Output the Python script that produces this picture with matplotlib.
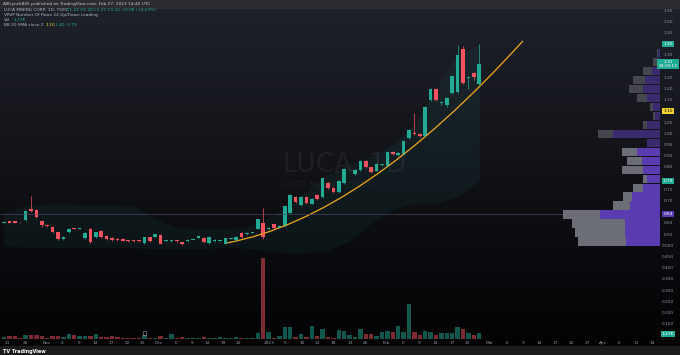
import numpy as np
import matplotlib.pyplot as plt
from matplotlib.path import Path
from matplotlib.patches import PathPatch

W, H = 680, 355

# daily candles (bar index 0..88)
opens = [0.603, 0.608, 0.608, 0.605, 0.613, 0.663, 0.659, 0.610, 0.590, 0.585,
         0.560, 0.530, 0.560, 0.575, 0.574, 0.534, 0.575, 0.538, 0.565, 0.545,
         0.535, 0.530, 0.530, 0.525, 0.525, 0.525, 0.510, 0.537, 0.540, 0.547,
         0.520, 0.520, 0.521, 0.515, 0.520, 0.525, 0.535, 0.535, 0.510, 0.520,
         0.520, 0.508, 0.530, 0.525, 0.557, 0.550, 0.557, 0.575, 0.603, 0.572,
         0.595, 0.580, 0.587, 0.645, 0.716, 0.681, 0.716, 0.688, 0.725, 0.716,
         0.780, 0.757, 0.740, 0.780, 0.840, 0.820, 0.838, 0.878, 0.850, 0.835,
         0.860, 0.855, 0.918, 0.905, 0.910, 0.980, 1.000, 0.998, 0.990, 1.150,
         1.198, 1.135, 1.130, 1.180, 1.185, 1.380, 1.250, 1.270, 1.220]
closes = [0.607, 0.603, 0.603, 0.604, 0.654, 0.654, 0.627, 0.590, 0.588, 0.560,
          0.530, 0.540, 0.575, 0.574, 0.575, 0.556, 0.515, 0.560, 0.538, 0.530,
          0.525, 0.525, 0.522, 0.520, 0.520, 0.520, 0.537, 0.520, 0.550, 0.507,
          0.520, 0.521, 0.520, 0.505, 0.527, 0.525, 0.542, 0.515, 0.537, 0.527,
          0.520, 0.532, 0.530, 0.540, 0.537, 0.557, 0.557, 0.617, 0.537, 0.578,
          0.578, 0.587, 0.677, 0.727, 0.696, 0.716, 0.690, 0.707, 0.707, 0.800,
          0.757, 0.740, 0.790, 0.840, 0.840, 0.838, 0.878, 0.850, 0.830, 0.865,
          0.860, 0.918, 0.910, 0.915, 0.967, 1.017, 0.999, 0.990, 1.120, 1.198,
          1.150, 1.140, 1.160, 1.257, 1.350, 1.225, 1.255, 1.252, 1.310]
highs = [0.609, 0.610, 0.610, 0.606, 0.660, 0.720, 0.662, 0.615, 0.596, 0.588,
         0.562, 0.543, 0.578, 0.577, 0.577, 0.560, 0.580, 0.563, 0.568, 0.548,
         0.537, 0.532, 0.532, 0.527, 0.527, 0.527, 0.540, 0.540, 0.553, 0.550,
         0.522, 0.523, 0.523, 0.517, 0.530, 0.527, 0.545, 0.538, 0.540, 0.530,
         0.522, 0.535, 0.532, 0.543, 0.560, 0.560, 0.560, 0.620, 0.670, 0.581,
         0.598, 0.590, 0.680, 0.730, 0.720, 0.720, 0.720, 0.712, 0.730, 0.805,
         0.785, 0.760, 0.795, 0.845, 0.843, 0.842, 0.882, 0.882, 0.853, 0.868,
         0.863, 0.922, 0.922, 0.918, 0.972, 1.022, 1.090, 1.002, 1.125, 1.205,
         1.205, 1.145, 1.165, 1.262, 1.395, 1.390, 1.258, 1.275, 1.400]
lows = [0.601, 0.601, 0.601, 0.603, 0.610, 0.650, 0.622, 0.585, 0.585, 0.556,
        0.527, 0.527, 0.557, 0.572, 0.572, 0.530, 0.510, 0.535, 0.535, 0.527,
        0.522, 0.522, 0.520, 0.518, 0.518, 0.518, 0.507, 0.518, 0.537, 0.505,
        0.518, 0.518, 0.518, 0.503, 0.518, 0.523, 0.532, 0.512, 0.507, 0.518,
        0.518, 0.505, 0.528, 0.522, 0.535, 0.548, 0.555, 0.572, 0.530, 0.569,
        0.575, 0.577, 0.584, 0.640, 0.690, 0.676, 0.685, 0.684, 0.703, 0.712,
        0.752, 0.736, 0.736, 0.776, 0.837, 0.816, 0.834, 0.846, 0.826, 0.831,
        0.857, 0.851, 0.906, 0.902, 0.906, 0.975, 0.996, 0.986, 0.986, 1.145,
        1.145, 1.130, 1.120, 1.175, 1.180, 1.220, 1.200, 1.240, 1.215]
# volume in thousands of shares
volumes = [0.42, 0.63, 0.63, 0.21, 0.84, 0.84, 0.84, 0.63, 0.21, 0.63,
           0.63, 0.42, 1.05, 0.84, 0.63, 0.63, 0.63, 1.05, 0.42, 0.42,
           0.63, 0.42, 0.21, 0.21, 0.21, 0.21, 0.84, 0.21, 0.21, 0.63,
           0.21, 1.05, 0.21, 0.42, 0.21, 0.21, 0.21, 0.42, 0.21, 0.21,
           0.42, 0.21, 0.21, 0.42, 0.21, 0.21, 0.21, 1.26, 17.0, 1.47,
           0.21, 0.63, 2.52, 2.52, 0.42, 1.05, 0.42, 2.73, 0.63, 2.10,
           0.42, 0.21, 1.89, 1.68, 0.84, 0.42, 2.10, 1.05, 1.05, 0.63,
           1.47, 1.68, 1.47, 2.73, 1.47, 7.35, 1.47, 0.84, 1.68, 1.47,
           0.84, 1.26, 1.26, 1.26, 2.52, 2.10, 1.26, 0.84, 1.27]

# Bollinger band edges read at a few bars
bb_idx = [0, 4, 8, 12, 16, 20, 24, 28, 32, 36, 40, 44, 48, 52, 56, 60, 64, 68, 72, 76, 80, 84, 88]
bb_upper = [0.645, 0.68, 0.685, 0.685, 0.68, 0.68, 0.675, 0.62, 0.58, 0.575, 0.575, 0.58,
            0.61, 0.67, 0.74, 0.82, 0.86, 0.90, 0.95, 1.04, 1.20, 1.35, 1.40]
bb_lower = [0.50, 0.49, 0.49, 0.49, 0.49, 0.49, 0.49, 0.487, 0.485, 0.487, 0.49, 0.49,
            0.48, 0.47, 0.47, 0.48, 0.52, 0.60, 0.66, 0.69, 0.69, 0.72, 0.79]

# visible range volume profile, rows from the bottom
vp_bottom = 0.50
vp_step = 0.04
vp_total = [82, 85, 88, 97, 47, 37, 27, 17, 38, 33, 38, 13, 62, 17, 7, 10, 23, 31, 27, 17, 7, 3]
vp_up = [34, 35, 35, 60, 30, 28, 17, 13, 17, 18, 23, 13, 47, 13, 5, 7, 13, 17, 15, 8, 3, 2]
vp_value_rows = 11
poc_price = 0.641

# curve drawing: start, control, end (bar index, price)
curve_pts = [(41.3, 0.512), (66.5, 0.625), (96.1, 1.414)]

price_ticks = np.round(np.arange(0.15, 1.551, 0.05), 2)
date_pos = [0.6, 3.9, 8, 10.7, 13.9, 16.9, 19.8, 22.8, 25.7, 28.7, 31.9, 34.8, 37.6, 40.6, 43.5,
            49.1, 52, 55.2, 58.1, 60.9, 64.1, 67, 70.9, 73.9, 76.9, 79.8, 83, 85.9, 90,
            93.1, 96.1, 99.1, 102, 105, 108, 110.9, 113.9, 117, 120]
date_lab = ['21', '26', 'Nov', '4', '9', '14', '17', '22', '25', 'Dec', '6', '9', '14', '19', '22',
            '2023', '5', '10', '13', '18', '23', '26', 'Feb', '6', '9', '14', '17', '22', 'Mar',
            '6', '9', '14', '17', '22', '27', 'Apr', '6', '11', '14']

UP = '#22ab94'
DN = '#f7525f'
TXT = '#9598a1'
FS = 3.1

fig = plt.figure(figsize=(W / 100, H / 100), dpi=100)

def fx(px):
    return px / W

def fy(py):
    return 1 - py / H

# background gradient
bg = fig.add_axes([0, 0, 1, 1])
t = np.linspace(0, 1, 200)[:, None]
top = np.array([31, 34, 42]) / 255
bot = np.array([2, 2, 3]) / 255
grad = top * (1 - t[..., None]) + bot * t[..., None]
bg.imshow(grad, aspect='auto', extent=[0, 1, 0, 1])
bg.axis('off')
bg.add_patch(plt.Rectangle((0, fy(8)), 1, 8 / H, color='#2a2c31'))
bg.add_patch(plt.Rectangle((0, 0), 1, 9 / H, color='#1c1c1e'))
bg.set_xlim(0, 1)
bg.set_ylim(0, 1)

pos = [0, fy(339), fx(660), 331 / H]
xlim = (-4 / 5.4, 656 / 5.4)
ylim = (0.083, 1.561)
idx = np.arange(len(closes))
o = np.array(opens)
c = np.array(closes)
cols = np.where(c >= o, UP, DN)

# volume
axv = fig.add_axes(pos)
axv.patch.set_alpha(0)
axv.bar(idx, volumes, width=0.85, color=cols, alpha=0.5, linewidth=0)
axv.scatter([26], [1.3], marker='s', s=6, facecolors='none', edgecolors='#9598a1', linewidths=0.4)
axv.set_xlim(xlim)
axv.set_ylim(0, max(volumes) * 331 / 81)
axv.axis('off')

# price
ax = fig.add_axes(pos)
ax.patch.set_alpha(0)
ax.set_xlim(xlim)
ax.set_ylim(ylim)
ax.axis('off')

ax.fill_between(bb_idx, bb_lower, bb_upper, color='#26a69a', alpha=0.07, linewidth=0)
ax.axhline(poc_price, color='#4b4566', lw=0.6, alpha=0.8)

ax.text(51.7, 0.83, 'LUCA, 1D', fontsize=19, color='#e0e3eb', alpha=0.06, va='baseline')
ax.text(51.7, 0.757, 'LUCA MINING CORP', fontsize=6.5, color='#e0e3eb', alpha=0.06, va='baseline')

ax.vlines(idx, lows, highs, colors=cols, lw=0.5)
body = np.maximum(np.abs(c - o), 0.003)
ax.bar(idx, body, bottom=np.minimum(o, c), width=0.68, color=cols, linewidth=0)

curve = Path(curve_pts, [Path.MOVETO, Path.CURVE3, Path.CURVE3])
ax.add_patch(PathPatch(curve, fc='none', ec='#f0a81c', lw=0.9))

# volume profile
axp = fig.add_axes([fx(540), fy(339), fx(120), 331 / H])
axp.patch.set_alpha(0)
rows = vp_bottom + vp_step * np.arange(len(vp_total))
grey = ['#6b6e76' if k < vp_value_rows else '#45474e' for k in range(len(rows))]
purp = ['#5b3cb0' if k < vp_value_rows else '#3a2b6e' for k in range(len(rows))]
axp.barh(rows, vp_total, height=vp_step * 0.93, align='edge', color=grey, linewidth=0)
axp.barh(rows, vp_up, height=vp_step * 0.93, align='edge', color=purp, linewidth=0)
axp.set_xlim(120, 0)
axp.set_ylim(ylim)
axp.axis('off')

# price scale labels
def py_of(p):
    return 10.5 + (1.55 - p) * 224

special = {1.40, 1.30, 1.10, 0.80, 0.65}
for p in price_ticks:
    if p in special:
        continue
    lab = f'{p:.2f}' if p >= 0.55 else f'{p:.3f}'
    fig.text(fx(668), fy(py_of(p)), lab, fontsize=FS, color=TXT, ha='center', va='center')

boxes = [(1.40, '1.40', UP, 'white'), (1.31, '1.31\n09:19:13', UP, 'white'),
         (1.10, '1.10', '#f2d22e', 'black'), (0.79, '0.79', UP, 'white'),
         (poc_price, '0.64', '#5b3cb0', 'white')]
for p, lab, fc, tc in boxes:
    fig.text(fx(668), fy(py_of(p)), lab, fontsize=FS, color=tc, ha='center', va='center',
             linespacing=1.0, bbox=dict(boxstyle='square,pad=0.25', fc=fc, ec='none'))
fig.text(fx(668), fy(334), '1.27K', fontsize=FS, color='white', ha='center', va='center',
         bbox=dict(boxstyle='square,pad=0.25', fc=UP, ec='none'))

# date labels
for d, lab in zip(date_pos, date_lab):
    fig.text(fx(4 + d * 5.4), fy(343), lab, fontsize=FS, color=TXT, ha='center', va='center')

# header and legend
fig.text(fx(3), fy(4), 'AlKrynck845 published on TradingView.com, Feb 27, 2023 14:40 UTC',
         fontsize=FS, color='#c9cbd1', va='center')
chg = c[-1] - c[-2]
fig.text(fx(4), fy(10), 'LUCA MINING CORP, 1D, TSXV', fontsize=FS, color='#b2b5be', va='center')
fig.text(fx(66), fy(10), f'O{o[-1]:.2f} H{highs[-1]:.2f} L{lows[-1]:.2f} C{c[-1]:.2f} '
         f'+{chg:.2f} (+{chg / c[-2] * 100:.2f}%)', fontsize=FS, color=UP, va='center')
fig.text(fx(4), fy(15), 'VRVP Number Of Rows 24 Up/Down Leading', fontsize=FS, color='#b2b5be', va='center')
fig.text(fx(4), fy(20), 'Vol', fontsize=FS, color='#b2b5be', va='center')
fig.text(fx(13), fy(20), f'{volumes[-1]:.2f}K', fontsize=FS, color=UP, va='center')
fig.text(fx(4), fy(25), 'BB 20 SMA close 2', fontsize=FS, color='#b2b5be', va='center')
fig.text(fx(46), fy(25), '1.10', fontsize=FS, color='#f2d22e', va='center')
fig.text(fx(55), fy(25), '1.40  0.79', fontsize=FS, color=UP, va='center')

fig.text(fx(3), fy(351), 'TV TradingView', fontsize=3.5, color='white', va='center', fontweight='bold')

fig.savefig('out.png', dpi=100)
